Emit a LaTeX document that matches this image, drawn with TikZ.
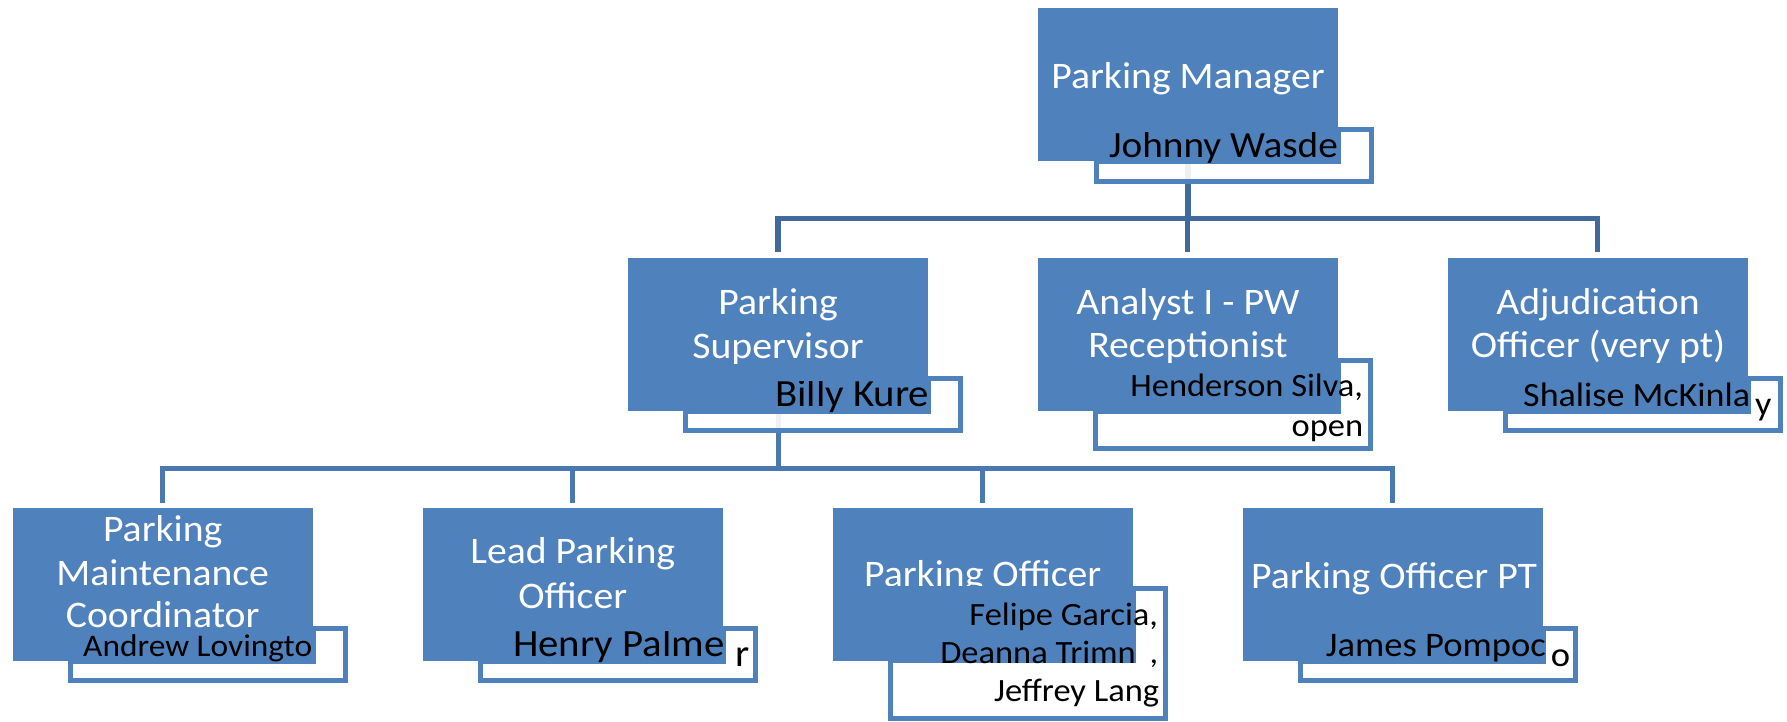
\documentclass[tikz,border=0pt]{standalone}
\usepackage{fontspec}
\setmainfont{Carlito}[FakeStretch=1.06]
\definecolor{boxblue}{RGB}{79,129,189}
\definecolor{lineA}{RGB}{63,106,155}
\definecolor{lineB}{RGB}{74,121,177}
\newcommand\fsz[1]{\fontsize{#1}{#1}\selectfont}
\tikzset{
  mainbox/.style={rectangle, fill=boxblue, draw=none, inner sep=0pt, outer sep=0pt, minimum width=300pt, minimum height=153pt},
  namebox/.style={rectangle, draw=boxblue, line width=5pt, fill=white, fill opacity=0.9, inner sep=0pt, outer sep=0pt, minimum width=275pt, minimum height=52pt},
  connA/.style={draw=lineA, line width=5.5pt, line join=miter},
  connB/.style={draw=lineB, line width=5pt, line join=miter},
  wtext/.style={text=white, inner sep=0pt, anchor=base, font=\fsz{37.5}},
  ntext/.style={text=black, inner sep=0pt},
}
\begin{document}
\begin{tikzpicture}[x=1pt,y=-1pt]
\useasboundingbox (0,0) rectangle (1787,721);
% main boxes
\node[mainbox] (mgr) at (1188,84.5) {};
\node[mainbox] (ps) at (778,334.5) {};
\node[mainbox] (an) at (1187.7,334.5) {};
\node[mainbox] (adj) at (1597.7,334.5) {};
\node[mainbox] (pmc) at (162.7,584) {};
\node[mainbox] (lpo) at (572.7,584) {};
\node[mainbox] (po) at (982.7,584) {};
\node[mainbox] (popt) at (1392.7,584) {};
% connectors
\coordinate (bar1) at (1188,218.5);
\coordinate (bar2) at (778,468.5);
\draw[connA] (mgr.south) -- (bar1);
\draw[connA] ([yshift=6pt]ps.north) |- (adj.north |- bar1) -- ([yshift=6pt]adj.north);
\draw[connA] ([yshift=6pt]an.north) -- (an.north |- bar1);
\draw[connB] (ps.south) -- (bar2);
\draw[connB] ([yshift=5pt]pmc.north) |- (popt.north |- bar2) -- ([yshift=5pt]popt.north);
\draw[connB] ([yshift=5pt]lpo.north) -- (lpo.north |- bar2);
\draw[connB] ([yshift=5pt]po.north) -- (po.north |- bar2);
% text hidden in part by its name box
\node[wtext] (tpo) at (982.7,586.7) {Parking Officer};
% name boxes
\node[namebox] (nmgr) at (1234,155.5) {};
\node[namebox] (nps) at (823,404.5) {};
\node[namebox, minimum height=88pt] (nan) at (1233,404.5) {};
\node[namebox] (nadj) at (1643,404.5) {};
\node[namebox] (npmc) at (208,654.5) {};
\node[namebox] (nlpo) at (618,654.5) {};
\node[namebox, minimum height=130pt] (npo) at (1028,653.5) {};
\node[namebox] (npopt) at (1438,654.5) {};
% overlays
\fill[boxblue] (1099,132) rectangle (1341,164);
\fill[boxblue] (688,381) rectangle (931,414);
\fill[boxblue] (1098,363) rectangle (1341,413.5);
\fill[boxblue] (1508,381) rectangle (1751,414);
\fill[boxblue] (73,631) rectangle (316,664);
\fill[boxblue] (483,631) rectangle (726,664);
\fill[boxblue] (893,591) rectangle (1136,663);
\fill[boxblue] (1303,631) rectangle (1546,664);
% main texts
\node[wtext] (tmgr) at (1188,88.3) {Parking Manager};
\node[wtext] (tps1) at (778,314) {Parking};
\node[wtext] (tps2) at (778,358) {Supervisor};
\node[wtext] (tan1) at (1188,314) {Analyst I - PW};
\node[wtext] (tan2) at (1188,357) {Receptionist};
\node[wtext] (tadj1) at (1598,314) {Adjudication};
\node[wtext] (tadj2) at (1598,357) {Officer (very pt)};
\node[wtext] (tpmc1) at (162.7,541.7) {Parking};
\node[wtext] (tpmc2) at (162.7,585) {Maintenance};
\node[wtext] (tpmc3) at (162.7,627.3) {Coordinator};
\node[wtext] (tlpo1) at (572.7,563.3) {Lead Parking};
\node[wtext] (tlpo2) at (572.7,608.3) {Officer};
\node[wtext] (tpopt) at (1394,588.3) {Parking Officer PT};
% names
\begin{scope}
\clip (1099,132) rectangle (1341,164);
\node[ntext, anchor=base west, font=\fsz{37}] (tjw) at (1109,157) {Johnny Wasde};
\end{scope}
\begin{scope}
\clip (688,381) rectangle (931,414);
\node[ntext, anchor=base west, font=\fsz{38.5}] (tbk) at (775,406.7) {Billy Kure};
\end{scope}
\node[ntext, anchor=base east, font=\fsz{32.5}] (ths) at (1363.3,396.7) {Henderson Silva,};
\node[ntext, anchor=base east, font=\fsz{32.5}] (top) at (1363.3,436.7) {open};
\begin{scope}
\clip (1508,381) rectangle (1751,414);
\node[ntext, anchor=base west, font=\fsz{34}] (tsm) at (1523,406.7) {Shalise McKinla};
\end{scope}
\node[ntext, anchor=base west, font=\fsz{34}] (tsmy) at (1755,415) {y};
\begin{scope}
\clip (73,631) rectangle (316,664);
\node[ntext, anchor=base west, font=\fsz{31.5}] (tal) at (83,656.7) {Andrew Lovingto};
\end{scope}
\begin{scope}
\clip (483,631) rectangle (726,664);
\node[ntext, anchor=base west, font=\fsz{38.5}] (thp) at (513,656.7) {Henry Palme};
\end{scope}
\node[ntext, anchor=base west, font=\fsz{38.5}] (thpr) at (735,666.7) {r};
\node[ntext, anchor=base east, font=\fsz{32.5}] (tfg) at (1158.3,625) {Felipe Garcia,};
\begin{scope}
\clip (893,591) rectangle (1136,663);
\node[ntext, anchor=base east, font=\fsz{32.5}] (tdt) at (1136,663.3) {Deanna Trimn};
\end{scope}
\node[ntext, anchor=base east, font=\fsz{32.5}] (tdtc) at (1158.3,663.3) {,};
\node[ntext, anchor=base east, font=\fsz{32.5}] (tjl) at (1159.3,701.7) {Jeffrey Lang};
\begin{scope}
\clip (1303,631) rectangle (1546,664);
\node[ntext, anchor=base west, font=\fsz{34.5}] (tjp) at (1325.7,656.7) {James Pompoc};
\end{scope}
\node[ntext, anchor=base west, font=\fsz{34.5}] (tjpo) at (1550.7,666.7) {o};
\end{tikzpicture}
\end{document}
